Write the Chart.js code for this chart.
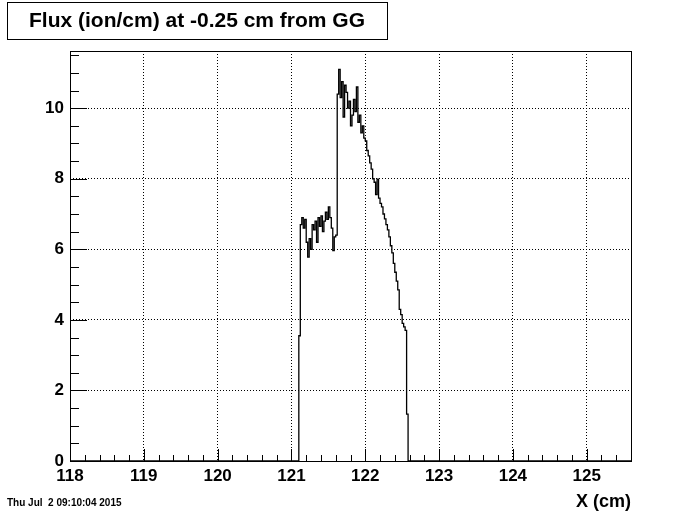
<!DOCTYPE html>
<html>
<head>
<meta charset="utf-8">
<script src="https://cdn.jsdelivr.net/npm/chart.js@4/dist/chart.umd.min.js"></script>
<style>
  body { margin: 0; background: #fff; }
  canvas { display: block; }
</style>
</head>
<body>
<canvas id="flux" width="700" height="514"></canvas>
<script>
// histogram bins (lower edge, cm) and contents (ion/cm)
const xEdges = [
  121.10, 121.12, 121.14, 121.16, 121.18, 121.20, 121.22, 121.24, 121.26, 121.28,
  121.30, 121.32, 121.34, 121.36, 121.38, 121.40, 121.42, 121.44, 121.46, 121.48,
  121.50, 121.52, 121.54, 121.56, 121.58, 121.60, 121.62, 121.64, 121.66, 121.68,
  121.70, 121.72, 121.74, 121.76, 121.78, 121.80, 121.82, 121.84, 121.86, 121.88,
  121.90, 121.92, 121.94, 121.96, 121.98, 122.00, 122.02, 122.04, 122.06, 122.08,
  122.10, 122.12, 122.14, 122.16, 122.18, 122.20, 122.22, 122.24, 122.26, 122.28,
  122.30, 122.32, 122.34, 122.36, 122.38, 122.40, 122.42, 122.44, 122.46, 122.48,
  122.50, 122.52, 122.54, 122.56, 122.58
];
const fluxValues = [
  3.55, 6.7, 6.9, 6.6, 6.85, 6.2, 5.78, 6.3, 6.0, 6.7,
  6.55, 6.8, 6.2, 6.9, 6.65, 6.95, 6.5, 6.8, 7.05, 6.85,
  7.2, 6.9, 6.6, 5.96, 6.35, 6.4, 10.4, 11.1, 10.3, 10.75,
  9.75, 10.65, 10.45, 10.0, 10.2, 9.5, 9.8, 10.25, 9.9, 10.6,
  9.6, 9.8, 9.3, 9.5, 9.15, 9.07, 8.8, 8.65, 8.45, 8.27,
  8.0, 7.9, 7.55, 7.99, 7.45, 7.3, 7.2, 7.0, 6.86, 6.7,
  6.55, 6.35, 6.1, 5.9, 5.6, 5.35, 5.1, 4.85, 4.3, 4.15,
  3.9, 3.8, 3.7, 1.33, 0
];
const xRange = [118, 125.6];
const yRange = [0, 11.62];
const xTickLabels = [118, 119, 120, 121, 122, 123, 124, 125];
const yTickLabels = [0, 2, 4, 6, 8, 10];

const titleText = 'Flux (ion/cm) at -0.25 cm from GG';
const dateText = 'Thu Jul  2 09:10:04 2015';

const FONT = "'Liberation Sans', Arial, Helvetica, sans-serif";

// histogram as a step line, empty from the axis start up to the first bin
const points = [{ x: xRange[0], y: 0 }];
for (let i = 0; i < xEdges.length; i++) {
  points.push({ x: xEdges[i], y: fluxValues[i] });
}
points.push({ x: xRange[1], y: 0 });

// white page, ROOT-like frame, inward ticks, title box and date
const rootStyle = {
  id: 'rootStyle',
  beforeDraw(chart) {
    const ctx = chart.ctx;
    ctx.save();
    ctx.fillStyle = '#fff';
    ctx.fillRect(0, 0, chart.width, chart.height);
    ctx.restore();
  },
  afterDraw(chart) {
    const ctx = chart.ctx;
    const a = chart.chartArea;
    const xs = chart.scales.x;
    const ys = chart.scales.y;
    ctx.save();
    ctx.strokeStyle = '#000';
    ctx.lineWidth = 1;

    // frame
    ctx.strokeRect(Math.round(a.left) + 0.5, Math.round(a.top) + 0.5,
      Math.round(a.right - a.left), Math.round(a.bottom - a.top));

    ctx.beginPath();
    // x ticks: every 0.2, long at the integers
    for (let k = 0; k <= 38; k++) {
      const v = xRange[0] + k * 0.2;
      const px = Math.round(xs.getPixelForValue(v)) + 0.5;
      const len = (k % 5 === 0) ? 12 : 6;
      ctx.moveTo(px, a.bottom);
      ctx.lineTo(px, a.bottom - len);
    }
    // y ticks: every 0.5, long every 2
    for (let k = 0; k <= 23; k++) {
      const v = k * 0.5;
      const py = Math.round(ys.getPixelForValue(v)) + 0.5;
      const len = (k % 4 === 0) ? 17 : 9;
      ctx.moveTo(a.left, py);
      ctx.lineTo(a.left + len, py);
    }
    ctx.stroke();

    // title box
    ctx.fillStyle = '#fff';
    ctx.fillRect(7.5, 2.5, 380, 37);
    ctx.strokeRect(7.5, 2.5, 380, 37);
    ctx.fillStyle = '#000';
    ctx.font = 'bold 21px ' + FONT;
    ctx.textAlign = 'center';
    ctx.textBaseline = 'middle';
    ctx.fillText(titleText, 197, 21);

    // date stamp
    ctx.font = 'bold 10px ' + FONT;
    ctx.textAlign = 'left';
    ctx.fillText(dateText, 7, 503);
    ctx.restore();
  }
};

const config = {
  type: 'line',
  data: {
    datasets: [{
      label: 'flux',
      data: points,
      stepped: 'before',
      borderColor: '#000',
      borderWidth: 1.3,
      pointRadius: 0,
      fill: false
    }]
  },
  options: {
    responsive: false,
    animation: false,
    layout: { padding: { left: 0, right: 69, top: 51, bottom: 0 } },
    plugins: {
      legend: { display: false },
      title: { display: false },
      tooltip: { enabled: false }
    },
    scales: {
      x: {
        type: 'linear',
        min: xRange[0],
        max: xRange[1],
        afterBuildTicks: s => { s.ticks = xTickLabels.map(v => ({ value: v })); },
        afterFit: s => { s.height = 53; },
        grid: { color: '#000', lineWidth: 1, drawTicks: false },
        border: { display: false, dash: [1, 2] },
        ticks: {
          color: '#000',
          padding: 5,
          maxRotation: 0,
          font: { family: FONT, size: 17, weight: 'bold' },
          callback: v => String(v)
        },
        title: {
          display: true,
          text: 'X (cm)',
          align: 'end',
          color: '#000',
          padding: { top: 0, bottom: 1 },
          font: { family: FONT, size: 18, weight: 'bold' }
        }
      },
      y: {
        type: 'linear',
        min: yRange[0],
        max: yRange[1],
        afterBuildTicks: s => { s.ticks = yTickLabels.map(v => ({ value: v })); },
        afterFit: s => { s.width = 70; },
        grid: { color: '#000', lineWidth: 1, drawTicks: false },
        border: { display: false, dash: [1, 2] },
        ticks: {
          color: '#000',
          padding: 6,
          font: { family: FONT, size: 17, weight: 'bold' },
          callback: v => String(v)
        }
      }
    }
  },
  plugins: [rootStyle]
};

const fluxChart = new Chart(document.getElementById('flux'), config);
</script>
</body>
</html>
